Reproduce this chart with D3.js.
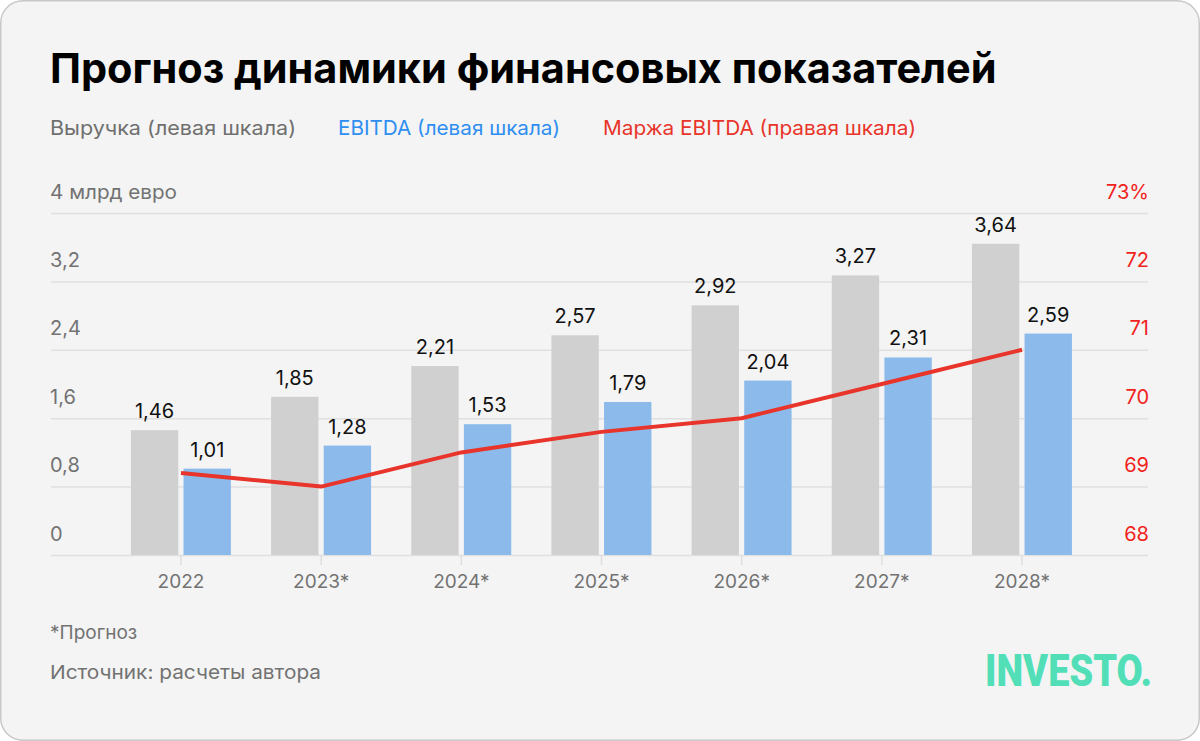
<!DOCTYPE html>
<html><head><meta charset="utf-8">
<script src="https://cdn.jsdelivr.net/npm/d3@7"></script>
<style>
html,body{margin:0;padding:0;background:#fff;}
svg{display:block;}
</style></head>
<body>
<svg id="chart" width="1200" height="741"></svg>
<script>
const years = ["2022","2023*","2024*","2025*","2026*","2027*","2028*"];
const revenue = [1.46,1.85,2.21,2.57,2.92,3.27,3.64];
const ebitda = [1.01,1.28,1.53,1.79,2.04,2.31,2.59];
const margin = [69.2,69.0,69.5,69.8,70.0,70.5,71.0];
const leftTicks = [0,0.8,1.6,2.4,3.2,4];
const leftTickLabels = ["0","0,8","1,6","2,4","3,2","4 млрд евро"];
const rightTicks = [68,69,70,71,72,73];
const rightTickLabels = ["68","69","70","71","72","73%"];
const title = "Прогноз динамики финансовых показателей";
const legendItems = ["Выручка (левая шкала)","EBITDA (левая шкала)","Маржа EBITDA (правая шкала)"];
const footnote = "*Прогноз";
const source = "Источник: расчеты автора";
const logo = "INVESTO.";

const FONT = "Inter, Roboto, 'Noto Sans', sans-serif";
const GRAY_TXT = "#727272";
const C_REV = "#d0d0d0", C_EB = "#8cbbeb", C_LINE = "#e8342a";
const C_LEG_REV = "#6f6f6f", C_LEG_EB = "#2e8ef1", C_LEG_M = "#e8342a", C_RAXIS = "#f0231d";

const svg = d3.select("#chart");
svg.append("rect").attr("x",0.75).attr("y",0.75).attr("width",1198.5).attr("height",739.5)
  .attr("rx",22).attr("fill","#f4f4f4").attr("stroke","#c8c8c8").attr("stroke-width",1.5);

function fit(sel, w){ sel.attr("textLength",w).attr("lengthAdjust","spacingAndGlyphs"); return sel; }

// title
const t = svg.append("text").attr("x",50).attr("y",83).text(title)
  .attr("font-family","Inter, Roboto, sans-serif").attr("font-weight",700).attr("font-size",44).attr("fill","#000");
const tw = t.node().getComputedTextLength();
t.attr("font-size", 44*947/tw);

// legend
const legX = [50,338,603], legC=[C_LEG_REV,C_LEG_EB,C_LEG_M], legW=[246,222,313];
legendItems.forEach((s,i)=>{
  const lt = svg.append("text").attr("x",legX[i]).attr("y",135).text(s)
    .attr("font-family",FONT).attr("font-size",20).attr("fill",legC[i]);
  fit(lt, legW[i]);
});

// scales
const x0 = d3.scaleBand().domain(years).range([110.9,1092.1]);
const x1 = d3.scaleBand().domain(["rev","eb"]).range([20,120]).paddingInner(0.1);
const yL = d3.scaleLinear().domain([0,4]).range([555,213]);
const yR = d3.scaleLinear().domain([68,73]).range([555,213]);

// left axis with grid
const gL = svg.append("g").attr("transform","translate(51,0)")
  .call(d3.axisLeft(yL).tickValues(leftTicks).tickSize(-1097).tickFormat((d,i)=>leftTickLabels[i]));
gL.select(".domain").remove();
gL.selectAll(".tick line").attr("stroke","#e0e0e0").attr("stroke-width",1.5);
gL.selectAll(".tick text").attr("x",-1).attr("dy",-15).attr("text-anchor","start")
  .attr("font-family",FONT).attr("font-size",20).attr("fill",GRAY_TXT);
gL.selectAll(".tick text").filter((d,i)=>i===5).attr("textLength",127).attr("lengthAdjust","spacingAndGlyphs");

const gR = svg.append("g").attr("transform","translate(1149,0)")
  .call(d3.axisRight(yR).tickValues(rightTicks).tickSize(0).tickFormat((d,i)=>rightTickLabels[i]));
gR.select(".domain").remove();
gR.selectAll(".tick text").attr("x",0).attr("dy",-15).attr("text-anchor","end")
  .attr("font-family",FONT).attr("font-size",20).attr("fill",C_RAXIS);

// x axis
const gX = svg.append("g").attr("transform","translate(0,555)")
  .call(d3.axisBottom(x0).tickSize(10).tickPadding(10));
gX.select(".domain").remove();
gX.selectAll(".tick line").attr("stroke","#dedede").attr("stroke-width",1.5);
gX.selectAll(".tick text").attr("font-family",FONT).attr("font-size",19).attr("fill",GRAY_TXT);

// bars
const rows = years.map((y,i)=>({year:y, rev:revenue[i], eb:ebitda[i]}));
const grp = svg.append("g").selectAll("g").data(rows).join("g")
  .attr("transform",d=>`translate(${x0(d.year)},0)`);
grp.append("rect").attr("x",x1("rev")).attr("width",x1.bandwidth())
  .attr("y",d=>yL(d.rev)).attr("height",d=>yL(0)-yL(d.rev)).attr("fill",C_REV);
grp.append("rect").attr("x",x1("eb")).attr("width",x1.bandwidth())
  .attr("y",d=>yL(d.eb)).attr("height",d=>yL(0)-yL(d.eb)).attr("fill",C_EB);
const fmt = v => d3.format(".2f")(v).replace(".",",");
grp.append("text").attr("x",x1("rev")+x1.bandwidth()/2).attr("y",d=>yL(d.rev)-12)
  .attr("text-anchor","middle").text(d=>fmt(d.rev))
  .attr("font-family",FONT).attr("font-size",20).attr("fill","#111");
grp.append("text").attr("x",x1("eb")+x1.bandwidth()/2).attr("y",d=>yL(d.eb)-12)
  .attr("text-anchor","middle").text(d=>fmt(d.eb))
  .attr("font-family",FONT).attr("font-size",20).attr("fill","#111");

// margin line
const line = d3.line().x((d,i)=>x0(years[i])+x0.bandwidth()/2).y(d=>yR(d));
svg.append("path").datum(margin).attr("d",line).attr("fill","none")
  .attr("stroke",C_LINE).attr("stroke-width",4).attr("stroke-linejoin","round");

// footer
svg.append("text").attr("x",50).attr("y",639).text(footnote)
  .attr("font-family",FONT).attr("font-size",19).attr("fill",GRAY_TXT);
fit(svg.append("text").attr("x",50).attr("y",679).text(source)
  .attr("font-family",FONT).attr("font-size",19).attr("fill",GRAY_TXT), 271);
svg.append("text").attr("x",985).attr("y",686).text(logo)
  .attr("font-family","Roboto, sans-serif").attr("font-weight",900).attr("font-size",45)
  .attr("fill","#52dfb8").attr("textLength",167).attr("lengthAdjust","spacingAndGlyphs");
</script>
</body></html>
